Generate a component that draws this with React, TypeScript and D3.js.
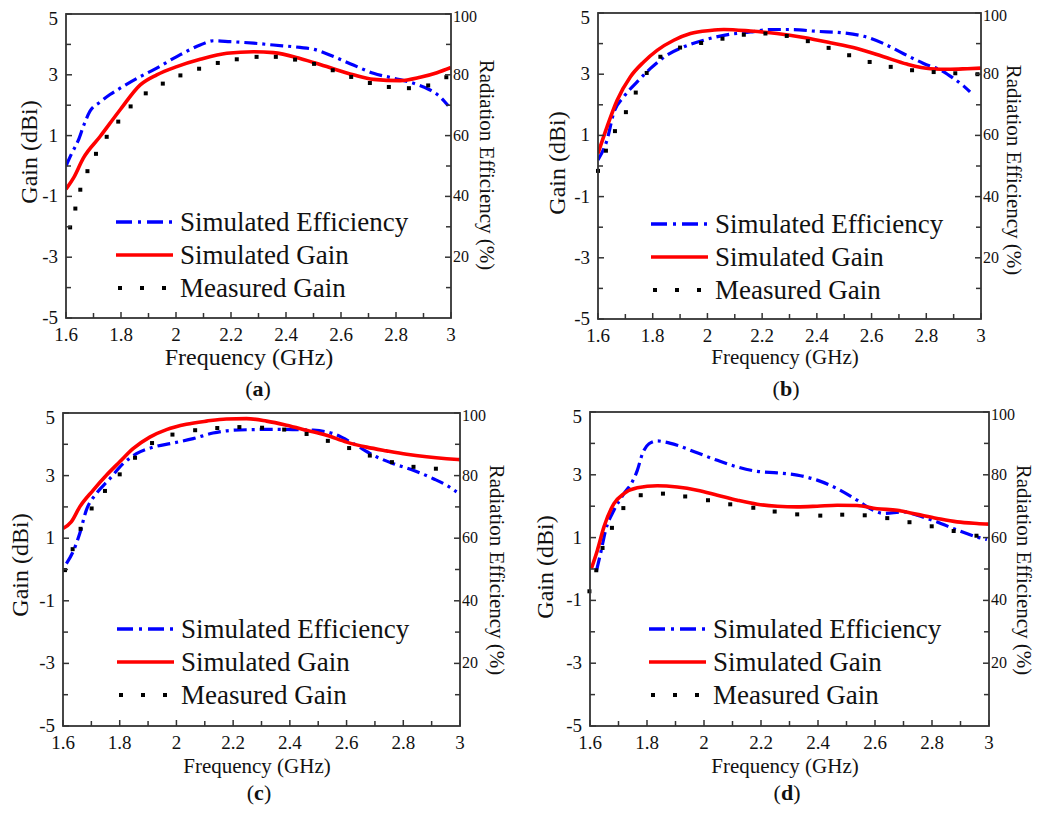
import React from "react";
import * as d3 from "d3";

// ---------- DATA ----------
const xTicks = [1.6, 1.8, 2, 2.2, 2.4, 2.6, 2.8, 3];
const xMinor = [1.7, 1.9, 2.1, 2.3, 2.5, 2.7, 2.9];
const gainTicks = [5, 3, 1, -1, -3, -5];
const gainMinor = [4, 2, 0, -2, -4];
const effTicks = [100, 80, 60, 40, 20];
const effMinor = [90, 70, 50, 30, 10];
const legendLabels = ["Simulated Efficiency", "Simulated Gain", "Measured Gain"];
const panelCaptions = ["a", "b", "c", "d"];

// Panel (a)
const effA_f = [1.6, 1.62, 1.645, 1.665, 1.687, 1.724, 1.76, 1.797, 1.87, 1.918, 2.003, 2.088, 2.136, 2.197, 2.282, 2.354, 2.451, 2.5, 2.573, 2.645, 2.718, 2.79, 2.864, 2.924, 2.96, 2.99];
const effA_v = [50, 54, 58.5, 63.5, 68, 71, 73.5, 75.6, 79.4, 81.6, 86, 89.8, 91.2, 90.9, 90.4, 89.8, 89, 88.4, 86, 83.2, 80.5, 78.9, 77.2, 75, 72.8, 69.8];
const gainA_f = [1.6, 1.627, 1.663, 1.724, 1.797, 1.87, 1.93, 2.003, 2.088, 2.185, 2.282, 2.354, 2.451, 2.548, 2.645, 2.718, 2.815, 2.888, 2.949, 3.0];
const gainA_v = [-0.76, -0.4, 0.26, 0.97, 1.85, 2.67, 3.0, 3.27, 3.51, 3.71, 3.76, 3.73, 3.54, 3.27, 3.0, 2.85, 2.81, 2.92, 3.07, 3.24];
const measA_f = [1.615, 1.634, 1.652, 1.678, 1.709, 1.748, 1.79, 1.835, 1.89, 1.952, 2.016, 2.084, 2.152, 2.221, 2.293, 2.363, 2.433, 2.502, 2.57, 2.637, 2.705, 2.774, 2.847, 2.917, 2.983];
const measA_v = [-2.02, -1.4, -0.78, -0.17, 0.4, 0.96, 1.46, 1.96, 2.39, 2.71, 2.98, 3.2, 3.39, 3.51, 3.59, 3.59, 3.5, 3.36, 3.15, 2.93, 2.73, 2.6, 2.56, 2.65, 2.92];

// Panel (b)
const effB_f = [1.6, 1.633, 1.657, 1.694, 1.743, 1.791, 1.852, 1.913, 1.986, 2.06, 2.157, 2.23, 2.303, 2.4, 2.498, 2.571, 2.644, 2.717, 2.79, 2.864, 2.9, 2.937, 2.96];
const effB_v = [52, 58.5, 67.2, 72.6, 77.5, 81.8, 86.2, 88.9, 91.1, 92.7, 93.8, 94.6, 94.6, 94, 93.5, 92.4, 90, 86.7, 83.5, 80.8, 78.6, 76.1, 74.2];
const gainB_f = [1.6, 1.633, 1.67, 1.718, 1.767, 1.816, 1.877, 1.938, 2.01, 2.06, 2.157, 2.254, 2.352, 2.449, 2.547, 2.644, 2.729, 2.815, 2.888, 2.95, 3.0];
const gainB_v = [0.41, 1.28, 2.15, 2.91, 3.4, 3.78, 4.11, 4.33, 4.43, 4.46, 4.41, 4.33, 4.2, 4.03, 3.84, 3.57, 3.33, 3.18, 3.16, 3.18, 3.2];
const measB_f = [1.6, 1.629, 1.662, 1.702, 1.738, 1.778, 1.828, 1.9, 1.977, 2.055, 2.133, 2.212, 2.29, 2.367, 2.443, 2.518, 2.593, 2.67, 2.748, 2.827, 2.906, 2.987];
const measB_v = [-0.16, 0.5, 1.14, 1.76, 2.4, 3.04, 3.57, 3.87, 4.02, 4.16, 4.29, 4.33, 4.25, 4.08, 3.86, 3.62, 3.4, 3.24, 3.13, 3.07, 3.03, 3.0];

// Panel (c)
const effC_f = [1.612, 1.635, 1.659, 1.682, 1.718, 1.765, 1.812, 1.859, 1.918, 1.988, 2.059, 2.129, 2.2, 2.271, 2.341, 2.412, 2.482, 2.553, 2.624, 2.694, 2.765, 2.835, 2.906, 2.953, 2.988];
const effC_v = [51.9, 55.6, 61.5, 68.9, 74.3, 79, 83.8, 87, 89.1, 90.4, 91.8, 93.6, 94.5, 94.7, 94.8, 94.7, 94.5, 93.4, 90.2, 86.5, 83.8, 81.7, 79, 76.9, 74.8];
const gainC_f = [1.6, 1.629, 1.659, 1.706, 1.753, 1.8, 1.847, 1.906, 1.965, 2.035, 2.106, 2.176, 2.247, 2.318, 2.388, 2.459, 2.529, 2.6, 2.671, 2.741, 2.812, 2.882, 2.953, 3.0];
const gainC_v = [1.31, 1.52, 2.0, 2.53, 3.01, 3.44, 3.86, 4.23, 4.47, 4.64, 4.74, 4.81, 4.82, 4.74, 4.61, 4.45, 4.29, 4.07, 3.91, 3.79, 3.68, 3.6, 3.54, 3.51];
const measC_f = [1.607, 1.634, 1.662, 1.701, 1.748, 1.8, 1.854, 1.914, 1.986, 2.066, 2.144, 2.222, 2.302, 2.38, 2.459, 2.534, 2.609, 2.682, 2.76, 2.836, 2.915];
const measC_v = [-0.02, 0.65, 1.3, 1.95, 2.51, 3.04, 3.57, 4.04, 4.31, 4.45, 4.52, 4.55, 4.53, 4.47, 4.33, 4.11, 3.88, 3.64, 3.43, 3.28, 3.22];

// Panel (d)
const effD_f = [1.623, 1.637, 1.655, 1.684, 1.719, 1.748, 1.766, 1.784, 1.807, 1.836, 1.86, 1.906, 1.976, 2.047, 2.117, 2.187, 2.257, 2.327, 2.397, 2.467, 2.537, 2.584, 2.631, 2.701, 2.748, 2.818, 2.888, 2.958, 2.993];
const effD_v = [49.6, 54.9, 62.4, 68.7, 74, 77.7, 81.4, 86.7, 89.9, 90.8, 90.5, 89.4, 87, 84.6, 82.5, 81.1, 80.6, 79.9, 78.3, 75.6, 71.9, 69.2, 67.7, 68.2, 67.1, 65, 62.4, 60.2, 59.4];
const gainD_f = [1.605, 1.626, 1.649, 1.684, 1.719, 1.766, 1.836, 1.906, 1.976, 2.047, 2.117, 2.187, 2.257, 2.327, 2.397, 2.467, 2.537, 2.607, 2.678, 2.748, 2.818, 2.888, 2.958, 3.0];
const gainD_v = [0.02, 0.6, 1.34, 2.08, 2.4, 2.59, 2.65, 2.61, 2.51, 2.35, 2.19, 2.06, 2.0, 1.98, 2.0, 2.03, 2.02, 1.92, 1.87, 1.74, 1.61, 1.5, 1.45, 1.43];
const measD_f = [1.598, 1.622, 1.644, 1.677, 1.717, 1.778, 1.856, 1.934, 2.014, 2.092, 2.173, 2.248, 2.327, 2.408, 2.485, 2.564, 2.643, 2.721, 2.799, 2.876, 2.956];
const measD_v = [-0.71, -0.04, 0.67, 1.31, 1.94, 2.35, 2.4, 2.31, 2.19, 2.06, 1.95, 1.83, 1.74, 1.7, 1.73, 1.71, 1.62, 1.49, 1.36, 1.21, 1.06];

// ---------- LAYOUT ----------
type Layout = {
  x0: number; x1: number; y0: number; y1: number;
  legX: number; legY: number; freqFont: number;
  gainLab: [number, number]; effLab: [number, number];
  freqLab: [number, number]; cap: [number, number];
};

const layouts: Layout[] = [
  { x0: 66, x1: 451, y0: 14, y1: 318, legX: 116, legY: 222, freqFont: 24, gainLab: [29, 152], effLab: [487, 165], freqLab: [249, 365], cap: [258, 396] },
  { x0: 598, x1: 981, y0: 13, y1: 319, legX: 651, legY: 224, freqFont: 21, gainLab: [557, 163], effLab: [1014, 170], freqLab: [785, 364], cap: [786, 396] },
  { x0: 63, x1: 460, y0: 413, y1: 726, legX: 117, legY: 629, freqFont: 21, gainLab: [20, 565], effLab: [497, 570], freqLab: [257, 773], cap: [259, 800] },
  { x0: 590, x1: 989, y0: 412, y1: 726, legX: 649, legY: 629, freqFont: 21, gainLab: [545, 567], effLab: [1024, 570], freqLab: [785, 773], cap: [787, 800] },
];

const panelData = [
  { ef: effA_f, ev: effA_v, gf: gainA_f, gv: gainA_v, mf: measA_f, mv: measA_v },
  { ef: effB_f, ev: effB_v, gf: gainB_f, gv: gainB_v, mf: measB_f, mv: measB_v },
  { ef: effC_f, ev: effC_v, gf: gainC_f, gv: gainC_v, mf: measC_f, mv: measC_v },
  { ef: effD_f, ev: effD_v, gf: gainD_f, gv: gainD_v, mf: measD_f, mv: measD_v },
];

const FONT = "Liberation Serif, Times New Roman, serif";
const AXIS = "#333";
const BLUE = "#0000ff";
const RED = "#ff0000";

function Panel({ L, D, cap }: { L: Layout; D: any; cap: string }) {
  const x = d3.scaleLinear().domain([1.6, 3]).range([L.x0, L.x1]);
  const yG = d3.scaleLinear().domain([-5, 5]).range([L.y1, L.y0]);
  const yE = d3.scaleLinear().domain([0, 100]).range([L.y1, L.y0]);

  const effPts: [number, number][] = D.ef.map((f: number, i: number) => [x(f), yE(D.ev[i])]);
  const gainPts: [number, number][] = D.gf.map((f: number, i: number) => [x(f), yG(D.gv[i])]);
  const line = d3.line().curve(d3.curveMonotoneX);

  const dashDot = "13,5,3,5";
  return (
    <g>
      <defs>
        <clipPath id={`clip-${cap}`}>
          <rect x={L.x0} y={L.y0 - 2} width={L.x1 - L.x0} height={L.y1 - L.y0 + 2} />
        </clipPath>
      </defs>
      <g clipPath={`url(#clip-${cap})`}>
        <path d={line(effPts) || ""} fill="none" stroke={BLUE} strokeWidth={3.2} strokeDasharray={dashDot} />
        <path d={line(gainPts) || ""} fill="none" stroke={RED} strokeWidth={3.6} />
      </g>
      {D.mf.map((f: number, i: number) => (
        <rect key={i} x={x(f) - 2} y={yG(D.mv[i]) - 2} width={4} height={4} fill="#000" />
      ))}
      <rect x={L.x0} y={L.y0} width={L.x1 - L.x0} height={L.y1 - L.y0} fill="none" stroke={AXIS} strokeWidth={1.8} />
      {xTicks.map((t) => (
        <g key={"xt" + t}>
          <line x1={x(t)} x2={x(t)} y1={L.y1} y2={L.y1 - 6} stroke={AXIS} strokeWidth={1.5} />
          <text x={x(t)} y={L.y1 + 23} textAnchor="middle" fontSize={19} fontFamily={FONT} fill="#111">{String(t)}</text>
        </g>
      ))}
      {xMinor.map((t) => (
        <line key={"xm" + t} x1={x(t)} x2={x(t)} y1={L.y1} y2={L.y1 - 5} stroke={AXIS} strokeWidth={1.5} />
      ))}
      {gainTicks.map((t) => (
        <g key={"gt" + t}>
          <line x1={L.x0} x2={L.x0 + 6} y1={yG(t)} y2={yG(t)} stroke={AXIS} strokeWidth={1.5} />
          <text x={L.x0 - 8} y={yG(t) + (t === 5 ? 11 : 6)} textAnchor="end" fontSize={19} fontFamily={FONT} fill="#111">{String(t)}</text>
        </g>
      ))}
      {gainMinor.map((t) => (
        <line key={"gm" + t} x1={L.x0} x2={L.x0 + 5} y1={yG(t)} y2={yG(t)} stroke={AXIS} strokeWidth={1.5} />
      ))}
      {effTicks.map((t) => (
        <g key={"et" + t}>
          <line x1={L.x1} x2={L.x1 - 6} y1={yE(t)} y2={yE(t)} stroke={AXIS} strokeWidth={1.5} />
          <text x={L.x1 + 2} y={yE(t) + (t === 100 ? 8 : 5)} textAnchor="start" fontSize={16} fontFamily={FONT} fill="#111">{String(t)}</text>
        </g>
      ))}
      {effMinor.map((t) => (
        <line key={"em" + t} x1={L.x1} x2={L.x1 - 5} y1={yE(t)} y2={yE(t)} stroke={AXIS} strokeWidth={1.5} />
      ))}
      <text transform={`translate(${L.gainLab[0]},${L.gainLab[1]}) rotate(-90)`} textAnchor="middle" dominantBaseline="central" fontSize={24} fontFamily={FONT} fill="#111">Gain (dBi)</text>
      <text transform={`translate(${L.effLab[0]},${L.effLab[1]}) rotate(90)`} textAnchor="middle" dominantBaseline="central" fontSize={21} fontFamily={FONT} fill="#111">Radiation Efficiency (%)</text>
      <text x={L.freqLab[0]} y={L.freqLab[1]} textAnchor="middle" fontSize={L.freqFont} fontFamily={FONT} fill="#111">Frequency (GHz)</text>
      <text x={L.cap[0]} y={L.cap[1]} textAnchor="middle" fontSize={22} fontFamily={FONT} fill="#111">
        (<tspan fontWeight="bold">{cap}</tspan>)
      </text>
      <g>
        <line x1={L.legX} x2={L.legX + 57} y1={L.legY} y2={L.legY} stroke={BLUE} strokeWidth={3.5} strokeDasharray="16,6,3,6" />
        <line x1={L.legX} x2={L.legX + 57} y1={L.legY + 33} y2={L.legY + 33} stroke={RED} strokeWidth={3.5} />
        {[4, 26, 48].map((dx) => (
          <rect key={dx} x={L.legX + dx - 2} y={L.legY + 66 - 2} width={4} height={4} fill="#000" />
        ))}
        {legendLabels.map((lab, i) => (
          <text key={lab} x={L.legX + 64} y={L.legY + i * 33 + 9} fontSize={27} fontFamily={FONT} fill="#111">{lab}</text>
        ))}
      </g>
    </g>
  );
}

export default function App() {
  return (
    <svg width={1037} height={814} style={{ position: "absolute", left: 0, top: 0, background: "#fff" }}>
      <rect width={1037} height={814} fill="#fff" />
      {layouts.map((L, i) => (
        <Panel key={i} L={L} D={panelData[i]} cap={panelCaptions[i]} />
      ))}
    </svg>
  );
}
